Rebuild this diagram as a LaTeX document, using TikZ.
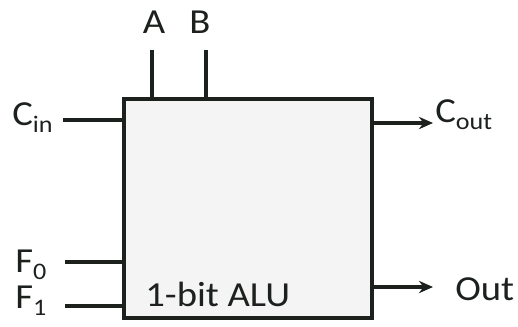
\documentclass[tikz,border=0pt]{standalone}
\usepackage{fontspec}
\setmainfont{Carlito}[FakeStretch=1.1]
\usetikzlibrary{arrows.meta}
\definecolor{wire}{HTML}{1C211E}
\definecolor{boxfill}{HTML}{F4F4F4}
\newcommand{\lowidx}[1]{\raisebox{-4.5pt}{\fontsize{13.5}{14}\selectfont #1}}

\begin{document}
\begin{tikzpicture}[>={Stealth[length=8pt,width=7pt]}, x=0.02cm, y=-0.02cm,
  every node/.style={font=\fontsize{20}{24}\selectfont, text=wire},
  wireline/.style={draw=wire, line width=2.2pt}]
  \useasboundingbox (0,0) rectangle (518,326);
  % the ALU block
  \node[draw=wire, fill=boxfill, line width=2.4pt, outer sep=0pt, inner sep=0pt,
        minimum width=4.96cm, minimum height=4.38cm] (alu) at (248,208.5) {};
  \node[anchor=base west, inner sep=0pt] (name) at (145,306) {1-bit ALU};
  % inputs on top
  \node[anchor=base, inner sep=0pt] (lblA) at (154,33) {A};
  \node[anchor=base, inner sep=0pt] (lblB) at (200,33) {B};
  \coordinate (a) at (152,50);
  \coordinate (b) at (206,50);
  \draw[wireline] (a) -- (a |- alu.north);
  \draw[wireline] (b) -- (b |- alu.north);
  % inputs on the left
  \node[anchor=base west, inner sep=0pt] (lblCin) at (12,125) {C\lowidx{in}};
  \node[anchor=base west, inner sep=0pt] (lblF0) at (15,272) {F\lowidx{0}};
  \node[anchor=base west, inner sep=0pt] (lblF1) at (15,308) {F\lowidx{1}};
  \coordinate (cin) at (63,120);
  \coordinate (f0) at (65,262);
  \coordinate (f1) at (65,306);
  \draw[wireline] (cin) -- (cin -| alu.west);
  \draw[wireline] (f0) -- (f0 -| alu.west);
  \draw[wireline] (f1) -- (f1 -| alu.west);
  % outputs on the right
  \node[anchor=base west, inner sep=0pt] (lblCout) at (435,122) {C\lowidx{out}};
  \node[anchor=base west, inner sep=0pt] (lblOut) at (455,300) {Out};
  \coordinate (cout) at (433,123);
  \coordinate (out) at (433,287);
  \draw[wireline,->] (cout -| alu.east) -- (cout);
  \draw[wireline,->] (out -| alu.east) -- (out);
\end{tikzpicture}
\end{document}
